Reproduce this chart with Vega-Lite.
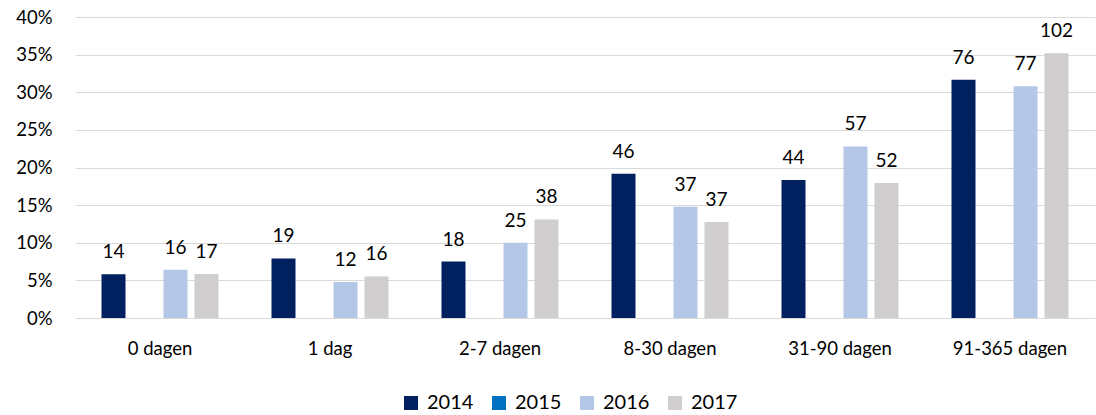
{
  "$schema": "https://vega.github.io/schema/vega-lite/v6.json",
  "width": 1020,
  "height": 301,
  "autosize": {"type": "none"},
  "padding": {"left": 75, "top": 17, "right": 1, "bottom": 97},
  "background": "white",
  "config": {
    "view": {"stroke": null},
    "font": "Lato",
    "axis": {"labelFont": "Lato", "labelFontSize": 18.5, "labelColor": "#000000"},
    "legend": {"labelFont": "Lato", "labelFontSize": 20, "labelColor": "#000000"}
  },
  "data": {
    "values": [
      {"category": "0 dagen", "year": "2014", "pct": 0.0583, "count": 14},
      {"category": "0 dagen", "year": "2016", "pct": 0.064, "count": 16},
      {"category": "0 dagen", "year": "2017", "pct": 0.0586, "count": 17},
      {"category": "1 dag", "year": "2014", "pct": 0.0792, "count": 19},
      {"category": "1 dag", "year": "2016", "pct": 0.048, "count": 12},
      {"category": "1 dag", "year": "2017", "pct": 0.0552, "count": 16},
      {"category": "2-7 dagen", "year": "2014", "pct": 0.075, "count": 18},
      {"category": "2-7 dagen", "year": "2016", "pct": 0.1, "count": 25},
      {"category": "2-7 dagen", "year": "2017", "pct": 0.131, "count": 38},
      {"category": "8-30 dagen", "year": "2014", "pct": 0.1917, "count": 46},
      {"category": "8-30 dagen", "year": "2016", "pct": 0.148, "count": 37},
      {"category": "8-30 dagen", "year": "2017", "pct": 0.1276, "count": 37},
      {"category": "31-90 dagen", "year": "2014", "pct": 0.1833, "count": 44},
      {"category": "31-90 dagen", "year": "2016", "pct": 0.228, "count": 57},
      {"category": "31-90 dagen", "year": "2017", "pct": 0.1793, "count": 52},
      {"category": "91-365 dagen", "year": "2014", "pct": 0.3167, "count": 76},
      {"category": "91-365 dagen", "year": "2016", "pct": 0.308, "count": 77},
      {"category": "91-365 dagen", "year": "2017", "pct": 0.3517, "count": 102}
    ]
  },
  "encoding": {
    "x": {
      "field": "category",
      "type": "nominal",
      "sort": ["0 dagen", "1 dag", "2-7 dagen", "8-30 dagen", "31-90 dagen", "91-365 dagen"],
      "scale": {"paddingInner": 0, "paddingOuter": 0},
      "axis": {"title": null, "labelAngle": 0, "domain": false, "ticks": false, "labelPadding": 21, "labelBaseline": "top"}
    },
    "xOffset": {
      "field": "year",
      "type": "nominal",
      "scale": {"domain": ["2014", "2015", "2016", "2017"], "paddingInner": 0.226, "paddingOuter": 0.855}
    },
    "y": {
      "field": "pct",
      "type": "quantitative",
      "scale": {"domain": [0, 0.4]},
      "axis": {
        "title": null,
        "format": ".0%",
        "values": [0, 0.05, 0.1, 0.15, 0.2, 0.25, 0.3, 0.35, 0.4],
        "domain": false,
        "ticks": false,
        "labelPadding": 23,
        "gridColor": "#D9D9D9",
        "gridWidth": 1
      }
    }
  },
  "layer": [
    {
      "mark": {"type": "bar"},
      "encoding": {
        "color": {
          "field": "year",
          "type": "nominal",
          "scale": {"domain": ["2014", "2015", "2016", "2017"], "range": ["#002060", "#0070C0", "#B4C7E7", "#D0CECE"]},
          "legend": {
            "title": null,
            "orient": "none",
            "direction": "horizontal",
            "columns": 4,
            "gridAlign": "all",
            "legendX": 326,
            "legendY": 376,
            "symbolType": "square",
            "symbolSize": 196,
            "symbolStrokeWidth": 0,
            "columnPadding": 15,
            "labelOffset": 6
          }
        }
      }
    },
    {
      "mark": {"type": "text", "baseline": "alphabetic", "dy": -16, "fontSize": 19, "color": "#000000"},
      "encoding": {
        "text": {"field": "count", "type": "quantitative"}
      }
    }
  ]
}
